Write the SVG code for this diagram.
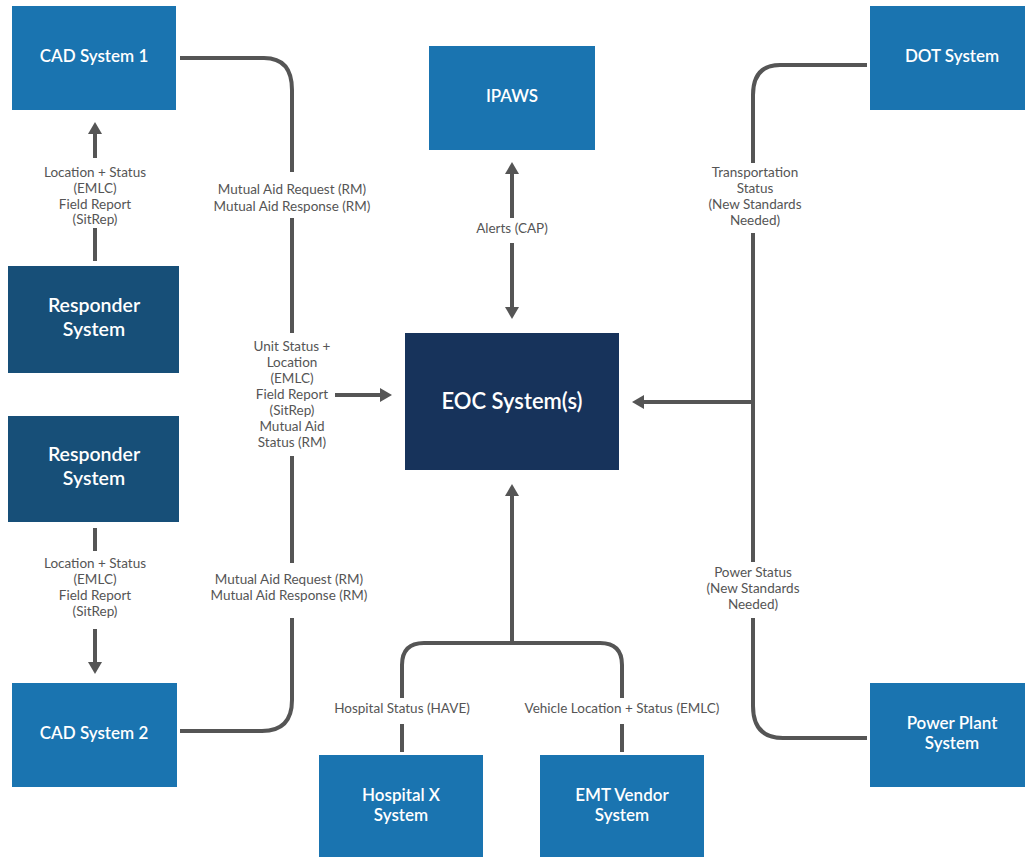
<svg xmlns="http://www.w3.org/2000/svg" width="1025" height="857" viewBox="0 0 1025 857">
<style>
.blue{fill:#1a74b0}
.resp{fill:#174f78}
.eoc{fill:#17335b}
.nt{font-family:Lato,"Open Sans","Liberation Sans",sans-serif;fill:#fff;text-anchor:middle;font-weight:600;font-size:17px}
.rt{font-size:19.5px}
.et{font-size:22px}
.lb{font-family:Lato,"Open Sans","Liberation Sans",sans-serif;fill:#555;text-anchor:middle;font-size:13.5px}
.c{fill:none;stroke:#555;stroke-width:4}
.ca{fill:none;stroke:#555;stroke-width:4;marker-end:url(#ah)}
</style>
<defs>
<marker id="ah" markerUnits="userSpaceOnUse" viewBox="0 0 12 14" refX="0" refY="7" markerWidth="12" markerHeight="14" orient="auto-start-reverse">
<path d="M0,0 L12,7 L0,14 z" fill="#555"/>
</marker>
</defs>
<rect width="1025" height="857" fill="#fff"/>
<g id="connectors">
<path class="c" d="M180,58 H264 Q292,58 292,90 V172"/>
<path class="c" d="M292,218 V333"/>
<path class="c" d="M292,456 V563"/>
<path class="c" d="M292,618 V700 Q292,731 262,731 H180"/>
<path class="ca" d="M335,395 H380"/>
<path class="ca" d="M95,158 V134"/>
<path class="c" d="M95,228 V261"/>
<path class="c" d="M95,528 V551"/>
<path class="ca" d="M95,629 V662"/>
<path class="ca" d="M512,218 V174"/>
<path class="ca" d="M512,243 V307"/>
<path class="c" d="M867,65 H780 Q753,65 753,95 V163"/>
<path class="c" d="M753,233 V562"/>
<path class="ca" d="M753,402 H644"/>
<path class="c" d="M753,618 V706 Q753,738 783,738 H867"/>
<path class="ca" d="M512,643 V496"/>
<path class="c" d="M402,698 V665 Q402,643 424,643 H600 Q622,643 622,665 V698"/>
<path class="c" d="M402,724 V752"/>
<path class="c" d="M622,724 V752"/>
</g>
<g id="labels">
<text class="lb" x="292" y="194">Mutual Aid Request (RM)</text>
<text class="lb" x="292" y="211">Mutual Aid Response (RM)</text>
<text class="lb" x="292" y="351">Unit Status +</text>
<text class="lb" x="292" y="367">Location</text>
<text class="lb" x="292" y="383">(EMLC)</text>
<text class="lb" x="292" y="399">Field Report</text>
<text class="lb" x="292" y="415">(SitRep)</text>
<text class="lb" x="292" y="431">Mutual Aid</text>
<text class="lb" x="292" y="447">Status (RM)</text>
<text class="lb" x="289" y="584">Mutual Aid Request (RM)</text>
<text class="lb" x="289" y="600">Mutual Aid Response (RM)</text>
<text class="lb" x="95" y="177">Location + Status</text>
<text class="lb" x="95" y="193">(EMLC)</text>
<text class="lb" x="95" y="209">Field Report</text>
<text class="lb" x="95" y="224">(SitRep)</text>
<text class="lb" x="95" y="568">Location + Status</text>
<text class="lb" x="95" y="584">(EMLC)</text>
<text class="lb" x="95" y="600">Field Report</text>
<text class="lb" x="95" y="616">(SitRep)</text>
<text class="lb" x="512" y="233">Alerts (CAP)</text>
<text class="lb" x="755" y="177">Transportation</text>
<text class="lb" x="755" y="193">Status</text>
<text class="lb" x="755" y="209">(New Standards</text>
<text class="lb" x="755" y="225">Needed)</text>
<text class="lb" x="753" y="577">Power Status</text>
<text class="lb" x="753" y="593">(New Standards</text>
<text class="lb" x="753" y="609">Needed)</text>
<text class="lb" x="402" y="713">Hospital Status (HAVE)</text>
<text class="lb" x="622" y="713">Vehicle Location + Status (EMLC)</text>
</g>
<g id="cad1"><rect class="blue" x="12" y="6" width="164" height="104"/><text class="nt" x="94" y="62">CAD System 1</text></g>
<g id="responder1"><rect class="resp" x="8" y="266" width="171" height="107"/><text class="nt rt" x="94" y="312">Responder</text><text class="nt rt" x="94" y="336">System</text></g>
<g id="responder2"><rect class="resp" x="8" y="416" width="171" height="106"/><text class="nt rt" x="94" y="461">Responder</text><text class="nt rt" x="94" y="485">System</text></g>
<g id="cad2"><rect class="blue" x="12" y="683" width="165" height="104"/><text class="nt" x="94" y="739">CAD System 2</text></g>
<g id="ipaws"><rect class="blue" x="429" y="46" width="166" height="104"/><text class="nt" x="512" y="102">IPAWS</text></g>
<g id="eoc"><rect class="eoc" x="405" y="333" width="214" height="137"/><text class="nt et" x="512" y="409">EOC System(s)</text></g>
<g id="dot"><rect class="blue" x="870" y="6" width="155" height="104"/><text class="nt" x="952" y="62">DOT System</text></g>
<g id="power"><rect class="blue" x="870" y="683" width="155" height="104"/><text class="nt" x="952" y="729">Power Plant</text><text class="nt" x="952" y="749">System</text></g>
<g id="hospital"><rect class="blue" x="319" y="755" width="164" height="102"/><text class="nt" x="401" y="801">Hospital X</text><text class="nt" x="401" y="821">System</text></g>
<g id="emt"><rect class="blue" x="540" y="755" width="164" height="102"/><text class="nt" x="622" y="801">EMT Vendor</text><text class="nt" x="622" y="821">System</text></g>
</svg>
